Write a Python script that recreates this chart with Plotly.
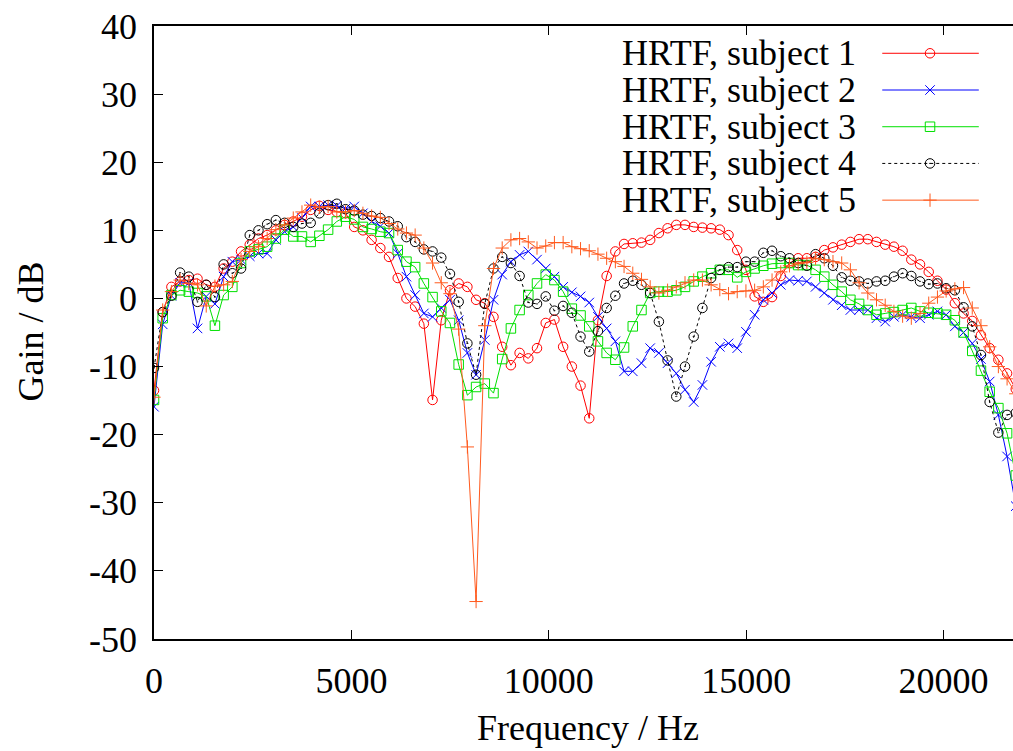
import plotly.graph_objects as go

# ---------------- data ----------------
FREQ_STEP = 220.5  # Hz between FFT bins
N_BINS = 100
freqs = [i * FREQ_STEP for i in range(N_BINS)]

names = ["HRTF, subject 1", "HRTF, subject 2", "HRTF, subject 3",
         "HRTF, subject 4", "HRTF, subject 5"]

subject1 = [-13.5, -2.0, 1.7, 2.5, 2.7, 2.9, 2.0, 1.7, 4.4, 5.4,
            6.9, 7.9, 8.8, 9.3, 10.0, 10.8, 11.3, 12.0, 13.0, 13.6,
            13.0, 12.7, 12.5, 10.5, 10.0, 8.6, 7.4, 6.1, 3.0, 0.0,
            -1.2, -3.7, -14.9, -3.2, 1.2, 2.2, 1.7, -0.2, -0.7, -2.7,
            -7.1, -9.8, -8.0, -8.8, -7.3, -3.6, -3.1, -7.1, -10.0, -12.8,
            -17.6, -3.2, 3.3, 6.9, 8.0, 8.1, 8.2, 8.6, 9.6, 10.3,
            10.8, 10.8, 10.5, 10.4, 10.3, 10.1, 9.3, 7.1, 4.2, 0.3,
            -0.5, 0.2, 3.3, 5.2, 5.9, 5.9, 6.1, 7.1, 7.5, 7.9,
            8.3, 8.7, 8.7, 8.3, 7.9, 7.6, 7.0, 5.7, 5.0, 3.9,
            2.6, 1.3, -0.7, -2.2, -3.3, -5.4, -7.3, -9.0, -11.0, -13.3]

subject2 = [-15.9, -3.8, 0.4, 2.3, 2.3, -4.4, 0.3, -0.8, 3.2, 5.4,
            5.7, 6.2, 6.6, 6.6, 8.6, 9.8, 10.5, 11.8, 13.5, 13.5,
            13.7, 13.6, 13.2, 13.5, 12.5, 11.3, 10.6, 9.6, 6.6, 3.2,
            0.5, -2.2, -2.7, -1.4, -0.2, -3.2, -8.0, -11.2, -6.1, -0.2,
            3.5, 5.4, 6.4, 6.9, 5.7, 4.4, 3.2, 1.7, 0.9, 0.3,
            -0.6, -2.7, -4.4, -6.3, -10.7, -10.7, -9.5, -7.3, -8.0, -9.5,
            -11.0, -13.4, -15.2, -12.7, -9.3, -7.1, -6.6, -7.3, -4.9, -2.4,
            -0.2, 0.8, 2.0, 2.7, 2.6, 2.5, 1.7, 0.8, -0.2, -1.0,
            -1.7, -1.7, -1.7, -2.9, -3.4, -2.7, -2.4, -2.7, -2.9, -2.4,
            -1.9, -2.4, -4.1, -5.0, -6.6, -8.9, -12.2, -17.1, -23.2, -30.5]

subject3 = [-14.9, -2.9, 0.5, 1.2, 1.0, 0.8, 0.3, -4.0, 0.5, 1.7,
            5.2, 6.9, 7.2, 7.6, 8.8, 10.1, 9.1, 9.1, 8.3, 9.2,
            10.1, 11.3, 12.0, 11.6, 10.5, 10.2, 9.8, 9.6, 7.1, 5.4,
            4.6, 2.2, 0.2, -1.9, -3.6, -9.7, -14.2, -13.0, -12.5, -13.9,
            -8.9, -4.4, -1.7, 0.5, 2.2, 3.5, 2.7, 1.0, -1.5, -2.5,
            -4.1, -6.3, -8.0, -9.0, -7.2, -4.1, -1.7, 0.8, 1.0, 1.0,
            1.2, 1.7, 2.5, 3.2, 3.7, 4.2, 4.2, 3.1, 3.9, 4.4,
            4.8, 5.1, 5.2, 5.2, 4.9, 4.9, 4.2, 3.2, 2.0, 1.0,
            -0.2, -0.8, -1.7, -2.4, -2.2, -2.0, -1.7, -1.4, -1.9, -2.1,
            -2.2, -2.4, -3.2, -5.0, -7.7, -10.6, -13.7, -16.1, -19.8, -26.0]

subject4 = [-10.2, -2.0, 0.4, 3.8, 3.2, -0.5, 2.0, 0.2, 5.0, 3.7,
            4.4, 9.3, 10.0, 10.9, 11.5, 11.1, 10.5, 11.0, 11.1, 12.5,
            13.7, 13.9, 13.1, 12.9, 12.3, 12.1, 11.8, 11.3, 10.6, 9.0,
            8.3, 7.2, 6.9, 6.0, 3.6, -0.5, -6.6, -11.2, -0.8, 4.4,
            6.1, 5.2, 3.3, -0.6, -0.8, 0.3, -1.8, -1.1, -2.1, -5.6,
            -7.8, -4.8, -1.4, 0.4, 2.2, 2.6, 2.0, 0.8, -3.4, -9.1,
            -14.4, -10.0, -5.6, -1.4, 3.0, 4.2, 4.6, 4.6, 5.4, 5.4,
            6.7, 7.0, 6.2, 5.9, 5.2, 4.8, 6.5, 5.9, 4.8, 3.1,
            2.6, 2.5, 2.2, 2.5, 2.6, 3.2, 3.7, 3.3, 2.5, 2.1,
            2.2, 1.5, 1.2, -1.3, -4.1, -8.3, -15.2, -19.7, -17.1, -16.8]

subject5 = [-14.5, -1.7, 1.0, 2.7, 2.2, 2.0, -1.1, 1.8, 2.0, 2.5,
            5.7, 6.9, 7.6, 8.8, 10.1, 10.8, 11.8, 12.7, 13.7, 13.4,
            13.5, 12.7, 12.7, 12.9, 12.5, 12.1, 11.9, 11.0, 10.2, 9.6,
            9.3, 7.4, 5.2, 2.3, 0.7, -4.5, -21.8, -44.5, -4.0, 4.4,
            7.4, 8.6, 8.8, 8.3, 7.4, 7.7, 8.2, 8.2, 7.6, 7.3,
            7.0, 6.5, 5.9, 5.4, 4.7, 3.7, 2.8, 1.7, 0.8, 1.2,
            1.7, 2.3, 2.7, 2.7, 2.0, 1.3, 0.7, 1.0, 1.1, 1.2,
            1.7, 2.7, 3.9, 4.8, 5.1, 5.3, 5.9, 5.7, 5.4, 5.2,
            4.2, 2.3, 0.8, -0.2, -1.0, -1.9, -2.6, -2.9, -2.2, -0.7,
            0.2, 1.1, 1.4, 1.6, -1.4, -4.0, -7.1, -10.0, -11.8, -14.0]

values = [subject1, subject2, subject3, subject4, subject5]

x_ticks = [0, 5000, 10000, 15000, 20000]
y_ticks = [-50, -40, -30, -20, -10, 0, 10, 20, 30, 40]

# ---------------- styles ----------------
colors = ["#ff0000", "#0000ff", "#00e000", "#000000", "#ff5a1e"]
symbols = ["circle-open", "x-thin-open", "square-open", "circle-open-dot", "cross-thin-open"]
dashes = ["solid", "solid", "solid", "dot", "solid"]
FONT = "Liberation Serif"
FS = 36
FS_KEY = 36

fig = go.Figure()
for name, vals, c, s, d in zip(names, values, colors, symbols, dashes):
    fig.add_trace(go.Scatter(
        x=freqs, y=vals, name=name, mode="lines+markers",
        line=dict(color=c, width=1, dash=d),
        marker=dict(symbol=s, size=9.5, color=c, line=dict(color=c, width=1)),
        showlegend=False, hoverinfo="skip"))

# ---------------- gnuplot-style key (text left, sample right) ----------------
LEG_TEXT_X = 0.8197
LEG_X0, LEG_XM, LEG_X1 = 0.8478, 0.9034, 0.9602
LEG_TOP = 0.9555
LEG_ROW = 0.0599
annotations = []
for k, (name, c, s, d) in enumerate(zip(names, colors, symbols, dashes)):
    yk = LEG_TOP - k * LEG_ROW
    fig.add_trace(go.Scatter(
        x=[LEG_X0, LEG_X1], y=[yk, yk], mode="lines", xaxis="x2", yaxis="y2",
        line=dict(color=c, width=1, dash=d), showlegend=False, hoverinfo="skip"))
    fig.add_trace(go.Scatter(
        x=[LEG_XM], y=[yk], mode="markers", xaxis="x2", yaxis="y2",
        marker=dict(symbol=s, size=9.5, color=c, line=dict(color=c, width=1)),
        showlegend=False, hoverinfo="skip"))
    annotations.append(dict(
        text=name, x=LEG_TEXT_X, y=yk, xref="paper", yref="paper",
        xanchor="right", yanchor="middle", showarrow=False,
        font=dict(family=FONT, size=FS_KEY, color="black")))

annotations.append(dict(text="Frequency / Hz", x=0.5055, y=-0.146, xref="paper", yref="paper",
                        xanchor="center", yanchor="middle", showarrow=False,
                        font=dict(family=FONT, size=FS, color="black")))
annotations.append(dict(text="Gain / dB", x=-0.1437, y=0.5008, xref="paper", yref="paper",
                        xanchor="center", yanchor="middle", showarrow=False, textangle=-90,
                        font=dict(family=FONT, size=FS, color="black")))

fig.update_layout(
    width=1013, height=751,
    margin=dict(l=153.5, r=0, t=26, b=112, pad=0),
    paper_bgcolor="white", plot_bgcolor="white",
    font=dict(family=FONT, size=FS, color="black"),
    showlegend=False,
    annotations=annotations,
    xaxis=dict(range=[0, 21759], tickvals=x_ticks, ticktext=[str(v) for v in x_ticks],
               ticks="inside", ticklen=9, tickwidth=1.2, tickcolor="black",
               showline=True, linecolor="black", linewidth=1.6, mirror="ticks",
               showgrid=False, zeroline=False, ticklabelstandoff=9,
               tickfont=dict(family=FONT, size=FS, color="black")),
    yaxis=dict(range=[-50, 40], tickvals=y_ticks, ticktext=[str(v) for v in y_ticks],
               ticks="inside", ticklen=9, tickwidth=1.2, tickcolor="black",
               showline=True, linecolor="black", linewidth=1.6, mirror=False,
               showgrid=False, zeroline=False, ticklabelstandoff=8,
               tickfont=dict(family=FONT, size=FS, color="black")),
    xaxis2=dict(range=[0, 1], domain=[0, 1], anchor="y2", overlaying="x", visible=False),
    yaxis2=dict(range=[0, 1], domain=[0, 1], anchor="x2", overlaying="y", visible=False),
)

fig.write_html("out.html", config={"displayModeBar": False},
               post_script="document.body.style.margin='0';document.body.style.overflow='hidden';")
